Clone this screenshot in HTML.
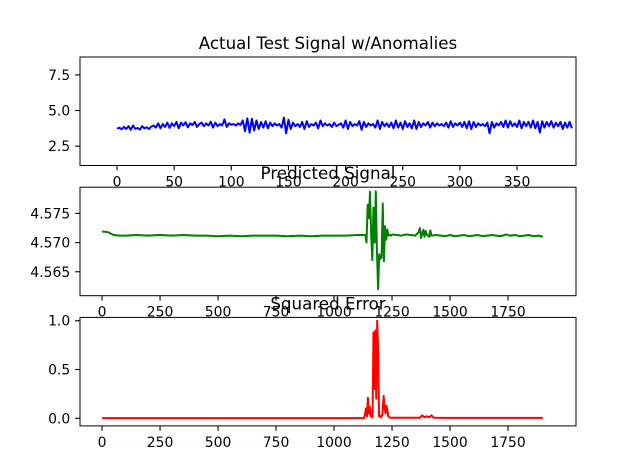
<!DOCTYPE html>
<html><head><meta charset="utf-8"><style>
html,body{margin:0;padding:0;background:#fff;}
svg{display:block;font-family:"DejaVu Sans","Liberation Sans",sans-serif;}
</style></head><body>
<svg id="fig" width="640" height="476" viewBox="0 0 640 476"></svg>
<script>
// ---- Panel 1 data: actual test signal (x step 2) ----
const p1Values = [3.72,3.8,3.68,3.85,3.7,3.9,3.65,3.95,3.72,3.78,3.66,3.9,3.75,3.82,3.7,3.88,3.95,3.8,4.1,3.75,4.05,3.85,4.15,3.78,4.1,3.9,4.2,3.75,4.15,3.95,4.18,3.82,4.1,3.98,4.2,3.85,4.05,4.15,3.9,4.1,3.95,4.22,3.8,4.15,3.9,4.05,3.95,4.38,3.85,4.1,4.0,4.05,3.95,4.1,3.98,4.3,3.55,4.45,3.45,4.42,3.6,4.3,3.7,4.2,3.8,4.25,3.75,4.15,3.9,4.1,3.95,4.05,3.8,4.5,3.4,4.35,3.7,4.15,3.9,4.05,3.85,4.2,3.7,4.25,3.85,4.05,3.95,4.15,3.75,4.3,3.9,4.1,3.95,4.05,3.85,4.15,3.9,4.0,4.1,3.8,4.3,3.7,4.2,3.9,4.05,3.95,4.25,3.65,4.2,3.85,4.1,3.95,4.05,3.8,4.3,3.7,4.2,3.9,4.1,3.85,4.15,3.75,4.3,3.8,4.15,3.7,4.25,3.85,4.1,3.75,4.3,3.7,4.2,3.85,4.1,3.95,4.2,3.8,4.15,3.9,4.1,3.95,4.05,3.9,4.15,3.8,4.25,3.85,4.1,3.95,4.15,3.85,4.2,3.75,4.25,3.7,4.2,3.85,4.1,3.95,4.05,3.9,4.15,3.4,4.2,3.8,4.1,3.95,4.2,3.85,4.3,3.8,4.25,3.9,4.1,3.85,4.3,3.75,4.2,3.9,4.2,3.8,4.3,3.75,4.2,3.45,4.25,3.8,4.2,3.9,4.25,3.8,4.15,3.9,4.2,3.7,4.15,3.8,4.2,3.75];
const p1Step = 2;
// ---- Panel 2 data: predicted signal ----
const p2X = [0,25,50,75,100,150,200,250,300,350,400,450,500,550,600,650,700,750,800,850,900,950,1000,1050,1100,1135,1140,1145,1150,1155,1160,1165,1170,1175,1180,1185,1190,1195,1200,1205,1210,1215,1220,1225,1230,1235,1240,1245,1250,1270,1290,1310,1330,1350,1365,1370,1375,1385,1390,1395,1400,1410,1415,1420,1440,1460,1480,1500,1520,1540,1560,1580,1600,1620,1640,1660,1680,1700,1720,1740,1760,1780,1800,1820,1840,1860,1880,1900];
const p2Y = [4.5719,4.5718,4.5713,4.5712,4.5712,4.5713,4.5712,4.5713,4.5712,4.5713,4.5712,4.5712,4.5711,4.5712,4.5711,4.5712,4.5712,4.5712,4.5711,4.5712,4.5711,4.5712,4.5712,4.5712,4.5713,4.5713,4.5700,4.5765,4.5742,4.5787,4.5715,4.5670,4.5760,4.5700,4.5788,4.5685,4.5620,4.5680,4.5672,4.5675,4.5767,4.5668,4.5728,4.5705,4.5722,4.5712,4.5713,4.5712,4.5714,4.5713,4.5712,4.5714,4.5713,4.5712,4.5718,4.5725,4.5708,4.5722,4.5710,4.5720,4.5714,4.5710,4.5721,4.5712,4.5713,4.5712,4.5711,4.5713,4.5711,4.5712,4.5713,4.5711,4.5712,4.5713,4.5711,4.5712,4.5713,4.5712,4.5711,4.5714,4.5712,4.5713,4.5711,4.5712,4.5713,4.5711,4.5712,4.5710];
// ---- Panel 3 data: squared error ----
const p3X = [0,200,400,600,800,1000,1130,1138,1142,1146,1150,1154,1158,1162,1166,1170,1174,1178,1182,1186,1190,1194,1198,1202,1208,1214,1218,1222,1226,1230,1234,1238,1244,1300,1370,1380,1390,1400,1410,1420,1430,1500,1600,1700,1800,1900];
const p3Y = [0.002,0.002,0.002,0.002,0.002,0.002,0.003,0.1,0.02,0.21,0.05,0.12,0.02,0.06,0.01,0.88,0.3,0.9,0.2,1.0,0.72,0.02,0.03,0.01,0.03,0.23,0.1,0.05,0.13,0.08,0.02,0.01,0.005,0.005,0.005,0.03,0.01,0.02,0.01,0.03,0.005,0.004,0.004,0.004,0.004,0.004];

const p1XTicks = [0,50,100,150,200,250,300,350];
const p1YTicks = [2.5,5.0,7.5];
const p2XTicks = [0,250,500,750,1000,1250,1500,1750];
const p2YTicks = [4.565,4.570,4.575];
const p3XTicks = [0,250,500,750,1000,1250,1500,1750];
const p3YTicks = [0.0,0.5,1.0];

const NS = "http://www.w3.org/2000/svg";
const fig = document.getElementById('fig');
function mk(tag, attrs, parent){const e=document.createElementNS(NS,tag);for(const k in attrs)e.setAttribute(k,attrs[k]);(parent||fig).appendChild(e);return e;}

function panel(name, title, top, h, xlim, ylim, xs, ys, color, xticks, yticks, yfmt){
  const L=80,R=576,B=top+h;
  const g=mk('g',{});
  
  
  const sx=v=>L+(v-xlim[0])/(xlim[1]-xlim[0])*(R-L);
  const sy=v=>B-(v-ylim[0])/(ylim[1]-ylim[0])*h;
  const cid='clip-'+name;
  const cp=mk('clipPath',{id:cid},g); mk('rect',{x:L,y:top,width:R-L,height:h},cp);
  let d='';
  for(let i=0;i<xs.length;i++){d+=(i?'L':'M')+sx(xs[i]).toFixed(2)+' '+sy(ys[i]).toFixed(2);}
  const line=mk('path',{d:d,fill:'none',stroke:color,'stroke-width':2,'stroke-linejoin':'round','clip-path':'url(#'+cid+')'},g);
  
  
  const box=mk('rect',{x:L,y:top,width:R-L,height:h,fill:'none',stroke:'#000','stroke-width':1},g);
  
  
  xticks.forEach(t=>{const x=sx(t);
    mk('line',{x1:x,x2:x,y1:B,y2:B+4.9,stroke:'#000','stroke-width':1.1},g);
    const tx=mk('text',{x:x,y:B+21,'font-size':13.9,'text-anchor':'middle',fill:'#000'},g);tx.textContent=String(t);
    
    
  });
  yticks.forEach(t=>{const y=sy(t);
    mk('line',{x1:L-4.9,x2:L,y1:y,y2:y,stroke:'#000','stroke-width':1.1},g);
    const tx=mk('text',{x:L-9.8,y:y+5,'font-size':13.9,'text-anchor':'end',fill:'#000'},g);tx.textContent=yfmt(t);
    
    
  });
  const tt=mk('text',{x:(L+R)/2,y:top-8,'font-size':16.7,'text-anchor':'middle',fill:'#000'},g);tt.textContent=title;
  
  
}
const p1X = p1Values.map((v,i)=>i*p1Step);
panel('actual-signal','Actual Test Signal w/Anomalies',57,108.5,[-32.4,401.6],[1.14,8.76],p1X,p1Values,'#0000ff',p1XTicks,p1YTicks,t=>t.toFixed(1));
panel('predicted-signal','Predicted Signal',187.2,108.5,[-95,2043],[4.5609,4.5795],p2X,p2Y,'#008000',p2XTicks,p2YTicks,t=>t.toFixed(3));
panel('squared-error','Squared Error',317.4,108.5,[-95,2043],[-0.078,1.034],p3X,p3Y,'#ff0000',p3XTicks,p3YTicks,t=>t.toFixed(1));
</script>
</body></html>
